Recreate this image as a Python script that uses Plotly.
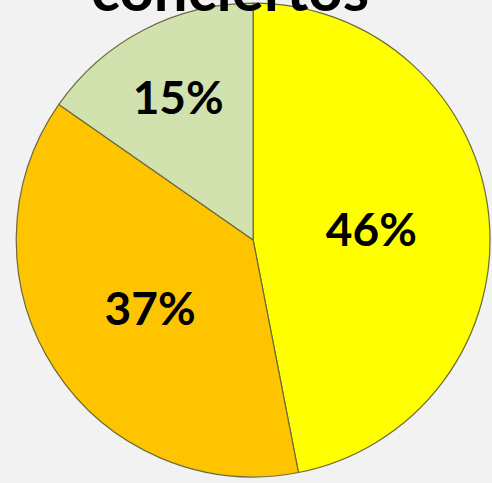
import plotly.graph_objects as go

labels = ["Sí", "No", "A veces"]
values = [46, 37, 15]
pct_text = ["46%", "37%", "15%"]
colors = ["#FFFF00", "#FFC400", "#D1E2AE"]

fig = go.Figure(go.Pie(
    labels=labels, values=values, text=pct_text,
    texttemplate="%{text}", textposition="inside",
    insidetextorientation="horizontal",
    sort=False, direction="clockwise", rotation=0,
    marker=dict(colors=colors, line=dict(color="#6b6b3a", width=1.2)),
    textfont=dict(family="Lato", size=46, color="black", weight="bold"),
    domain=dict(x=[0.033, 0.996], y=[0.0124, 0.994]),
    showlegend=False, hoverinfo="skip",
))

# title sits mostly above the visible area, as in the original crop
fig.add_annotation(
    text="conciertos", xref="paper", yref="paper", x=0.467, y=1 - 26 / 483,
    xanchor="center", yanchor="bottom", showarrow=False,
    font=dict(family="Lato", size=60, color="black", weight="bold"),
)

fig.update_layout(
    width=492, height=483, margin=dict(l=0, r=0, t=0, b=0),
    paper_bgcolor="#F2F2F2", plot_bgcolor="#F2F2F2",
)
fig.write_html("out.html", config={"displayModeBar": False},
               post_script="document.body.style.margin='0px';")
